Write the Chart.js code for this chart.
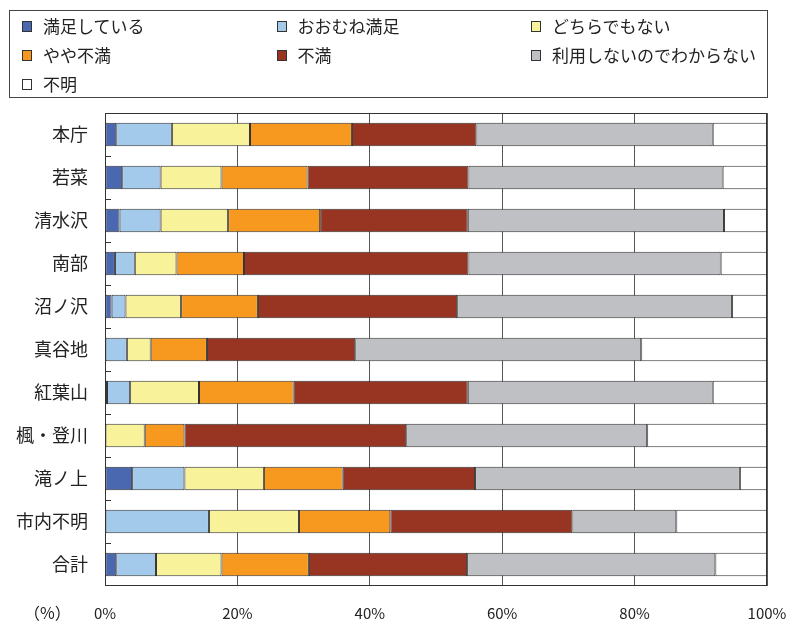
<!DOCTYPE html>
<html lang="ja">
<head>
<meta charset="utf-8">
<script src="https://cdn.jsdelivr.net/npm/chart.js@4.4.0/dist/chart.umd.min.js"></script>
<style>
  html, body { margin: 0; padding: 0; background: #fff; }
  #wrap { position: relative; width: 789px; height: 626px; font-family: "Noto Sans CJK JP", sans-serif; color: #222; }
  #chart { position: absolute; left: 0; top: 0; }
  #legend { position: absolute; left: 9px; top: 10px; width: 759px; height: 88px; border: 1px solid #444; box-sizing: border-box; }
  .item { position: absolute; font-size: 17px; line-height: 20px; white-space: nowrap; }
  .item i { position: absolute; left: -21px; top: 5px; width: 8px; height: 9px; border: 1px solid #333; }
  #unit { position: absolute; left: 24px; top: 600px; font-size: 16px; }
</style>
</head>
<body>
<div id="wrap">
  <canvas id="chart" width="789" height="626"></canvas>
  <div id="legend"></div>
  <div id="unit">（%）</div>
</div>
<script>
// 地区
const areas = ['本庁', '若菜', '清水沢', '南部', '沼ノ沢', '真谷地', '紅葉山', '楓・登川', '滝ノ上', '市内不明', '合計'];

// 回答区分
const labels = ['満足している', 'おおむね満足', 'どちらでもない', 'やや不満', '不満', '利用しないのでわからない', '不明'];
const colors = ['#4a68b0', '#a3c9eb', '#f8f29a', '#f7991e', '#973422', '#bfc0c3', '#ffffff'];

// 割合 (%)
const manzoku      = [1.7, 2.6, 2.2, 1.5, 1.0, 0,    0.3, 0,    4.1, 0,    1.7];
const omuneManzoku = [8.4, 5.8, 6.2, 3.0, 2.1, 3.3,  3.5, 0,    7.9, 15.7, 6.0];
const dochiraDemo  = [11.8, 9.2, 10.2, 6.3, 8.4, 3.6, 10.4, 6.0, 12.0, 13.6, 9.9];
const yayaFuman    = [15.4, 13.0, 13.9, 10.2, 11.6, 8.5, 14.3, 6.0, 11.9, 13.8, 13.2];
const fuman        = [18.8, 24.3, 22.3, 33.9, 30.1, 22.4, 26.3, 33.5, 20.0, 27.5, 23.9];
const riyoShinai   = [35.7, 38.4, 38.7, 38.1, 41.5, 43.2, 37.0, 36.4, 40.0, 15.7, 37.5];
const fumei        = [8.2, 6.7, 6.5, 7.0, 5.3, 19.0, 8.2, 18.1, 4.1, 13.7, 7.8];

const series = [manzoku, omuneManzoku, dochiraDemo, yayaFuman, fuman, riyoShinai, fumei];

const xTicks = [0, 20, 40, 60, 80, 100];

// Legend (3 columns)
const legend = document.getElementById('legend');
labels.forEach((name, i) => {
  const div = document.createElement('div');
  div.className = 'item';
  div.style.left = (33 + (i % 3) * 254.5) + 'px';
  div.style.top = (5 + Math.floor(i / 3) * 29) + 'px';
  div.innerHTML = '<i style="background:' + colors[i] + '"></i>' + name;
  legend.appendChild(div);
});

// plot frame + category ticks
const framePlugin = {
  id: 'frame',
  afterDatasetsDraw(chart) {
    const { ctx, chartArea: a } = chart;
    const y = chart.scales.y;
    ctx.save();
    ctx.strokeStyle = '#333';
    ctx.lineWidth = 1;
    ctx.strokeRect(a.left + 0.5, a.top + 0.5, a.right - a.left - 1, a.bottom - a.top - 1);
    ctx.beginPath();
    for (let i = 0; i < areas.length - 1; i++) {
      const py = Math.round((y.getPixelForTick(i) + y.getPixelForTick(i + 1)) / 2) + 0.5;
      ctx.moveTo(a.left, py);
      ctx.lineTo(a.left + 6, py);
    }
    ctx.stroke();
    ctx.restore();
  }
};

new Chart(document.getElementById('chart'), {
  type: 'bar',
  data: {
    labels: areas,
    datasets: series.map((d, i) => ({
      label: labels[i],
      data: d,
      backgroundColor: colors[i],
      borderColor: '#333',
      borderWidth: 1,
      borderSkipped: false,
      barPercentage: 0.545,
      categoryPercentage: 1,
    })),
  },
  options: {
    indexAxis: 'y',
    responsive: false,
    animation: false,
    layout: { padding: { top: 113, right: 22, left: 0, bottom: 0 } },
    plugins: {
      legend: { display: false },
      tooltip: { enabled: false },
    },
    scales: {
      x: {
        stacked: true,
        min: 0,
        max: 100,
        afterBuildTicks: (s) => { s.ticks = xTicks.map((v) => ({ value: v })); },
        afterFit: (s) => { s.height = 40; s.paddingLeft = 0; s.paddingRight = 0; },
        grid: { color: '#555', lineWidth: 1, drawTicks: false },
        border: { display: false },
        ticks: {
          padding: 18,
          color: '#222',
          font: { family: 'Noto Sans CJK JP', size: 15 },
          callback: (v) => v + '%',
        },
      },
      y: {
        stacked: true,
        afterFit: (s) => { s.width = 105; },
        grid: { display: false, drawTicks: false },
        border: { display: false },
        ticks: {
          padding: 17,
          color: '#222',
          font: { family: 'Noto Sans CJK JP', size: 18 },
        },
      },
    },
  },
  plugins: [framePlugin],
});
</script>
</body>
</html>
